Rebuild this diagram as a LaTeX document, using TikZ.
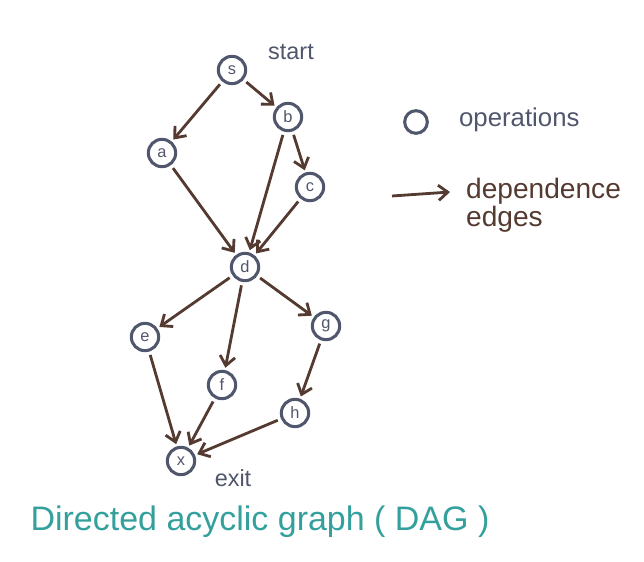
\documentclass[tikz,border=0pt]{standalone}
\usepackage{fontspec}
\setmainfont{Liberation Sans}
\usetikzlibrary{arrows.meta}

\definecolor{opgray}{RGB}{80,86,108}
\definecolor{edgebrown}{RGB}{84,58,48}
\definecolor{dagteal}{RGB}{52,160,158}

\tikzset{
  op/.style={circle,draw=opgray,line width=2.6pt,inner sep=0pt,
    minimum size=0.82cm,text=opgray,font=\fontsize{14}{14}\selectfont},
  dep/.style={draw=edgebrown,line width=2.4pt,
    -{Straight Barb[length=8pt,width=13pt,line width=2.4pt]},
    shorten <=3pt,shorten >=2pt}
}

\begin{document}
\begin{tikzpicture}[x=0.03cm,y=-0.03cm]
    \useasboundingbox (0,0) rectangle (644,562);
    \foreach \n/\x/\y in {s/232/70,b/288/117,a/162/153,c/310/187,d/245/267,
                          e/145/337,g/326/326,f/222/385,h/295/413,x/181/461}
      \node[op] (\n) at (\x,\y) {\n};
    \foreach \u/\v in {s/a,s/b,b/c,b/d,a/d,c/d,d/e,d/f,d/g,e/x,f/x,g/h,h/x}
      \draw[dep] (\u) -- (\v);
    \node[text=opgray,font=\fontsize{20}{20}\selectfont] (startlbl) at (291,52) {start};
    \node[text=opgray,font=\fontsize{20}{20}\selectfont] (exitlbl) at (233,478) {exit};
    % legend
    \node[circle,draw=opgray,line width=2.6pt,minimum size=0.68cm] (opkey) at (416,122) {};
    \node[text=opgray,anchor=west,font=\fontsize{22}{22}\selectfont] (oplbl) at (455,120) {operations};
    \coordinate (k1) at (392,196);
    \coordinate (k2) at (450,192);
    \draw[dep,shorten <=0pt,shorten >=0pt] (k1) -- (k2);
    \node[text=edgebrown,anchor=west,align=left,font=\fontsize{24}{24}\selectfont] (deplbl) at (462,205) {dependence\\edges};
    \node[text=dagteal,font=\fontsize{29}{29}\selectfont] (title) at (260,522) {Directed acyclic graph ( DAG )};
  \end{tikzpicture}
\end{document}
